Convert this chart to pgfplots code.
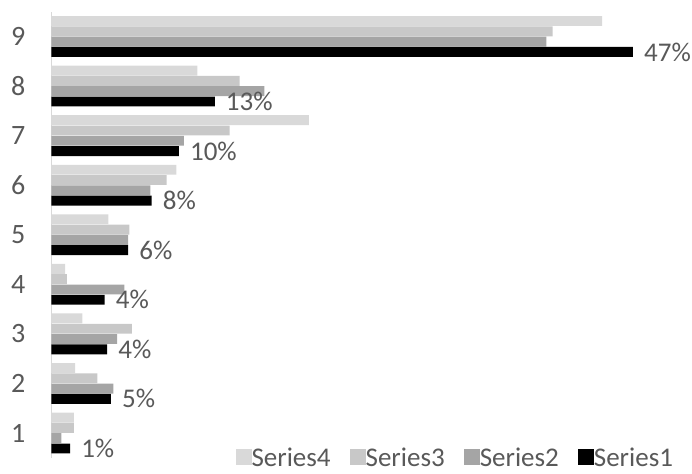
\documentclass[border=0pt]{standalone}
\usepackage{pgfplots}
\pgfplotsset{compat=1.18}
\usepackage{pgfplotstable}
\usepackage{fontspec}
\setmainfont{Carlito}
\definecolor{sfour}{RGB}{217,217,217}
\definecolor{sthree}{RGB}{200,200,200}
\definecolor{stwo}{RGB}{165,165,165}
\definecolor{txt}{RGB}{89,89,89}
\definecolor{axl}{RGB}{217,217,217}
\pgfplotstableread{
y s4 s3 s2 s1 lab
1 1.8 1.8 0.8 1.5 1
2 1.9 3.7 5.0 4.8 5
3 2.5 6.5 5.3 4.5 4
4 1.1 1.25 5.9 4.3 4
5 4.6 6.3 6.2 6.2 6
6 10.1 9.3 8.0 8.1 8
7 20.8 14.4 10.7 10.3 10
8 11.8 15.2 17.2 13.2 13
9 44.5 40.5 40.0 47.0 47
}\data
\begin{document}
\begin{tikzpicture}
\useasboundingbox (-51.5pt,-15.2pt) rectangle (640.5pt,457.8pt);
\begin{axis}[
  scale only axis,
  width=593.8pt, height=446.1pt,
  xmin=0, xmax=48, ymin=0.5, ymax=9.5,
  axis y line*=left, axis x line=none,
  y axis line style={draw=axl, line width=1.5pt, -},
  xtick=\empty,
  ytick={1,...,9},
  yticklabels={1,2,3,4,5,6,7,8,9},
  major tick length=0pt,
  /pgf/number format/assume math mode=true,
  yticklabel style={font=\fontsize{28}{30}\selectfont, text=txt, inner sep=0pt, xshift=-26pt},
  clip=false,
  xbar, bar width=9.9pt,
  legend columns=4,
  legend style={draw=none, fill=none, at={(1.0467,0.0)}, anchor=east,
    font=\fontsize{27}{29}\selectfont, text=txt, inner sep=0pt, outer sep=0pt,
    nodes={inner sep=0pt},
    /tikz/every odd column/.append style={column sep=0pt},
    /tikz/every even column/.append style={column sep=19pt}},
  legend image code/.code={\fill[#1] (0pt,-7pt) rectangle (16pt,9pt);},
]
\addplot[fill=sfour, draw=none, bar shift=15.45pt] table[x=s4, y=y] {\data};
\addlegendentry{Series4}
\addplot[fill=sthree, draw=none, bar shift=5.15pt] table[x=s3, y=y] {\data};
\addlegendentry{Series3}
\addplot[fill=stwo, draw=none, bar shift=-5.15pt] table[x=s2, y=y] {\data};
\addlegendentry{Series2}
\addplot[fill=black, draw=none, bar shift=-15.45pt,
  point meta=explicit symbolic,
  nodes near coords={\pgfplotspointmeta\%},
  every node near coord/.append style={anchor=west, xshift=11pt, inner sep=0pt,
    font=\fontsize{27}{29}\selectfont, text=txt}]
  table[x=s1, y=y, meta=lab] {\data};
\addlegendentry{Series1}
\end{axis}
\end{tikzpicture}
\end{document}
